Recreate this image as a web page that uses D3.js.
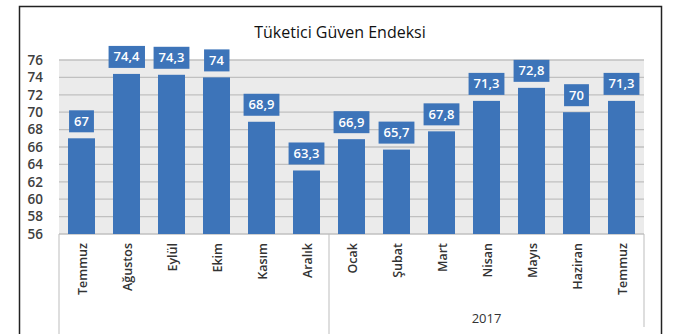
<!DOCTYPE html>
<html><head><meta charset="utf-8">
<script src="https://cdn.jsdelivr.net/npm/d3@7"></script>
<style>
body{margin:0;background:#fff;}
svg{display:block;font-family:"Open Sans","Liberation Sans",sans-serif;}
</style></head>
<body><svg id="c" width="693" height="334"></svg>
<script>
const months = ["Temmuz","Ağustos","Eylül","Ekim","Kasım","Aralık","Ocak","Şubat","Mart","Nisan","Mayıs","Haziran","Temmuz"];
const values = [67,74.4,74.3,74,68.9,63.3,66.9,65.7,67.8,71.3,72.8,70,71.3];
const labels = ["67","74,4","74,3","74","68,9","63,3","66,9","65,7","67,8","71,3","72,8","70","71,3"];
const yTicks = [56,58,60,62,64,66,68,70,72,74,76];
const groups = [{name:"", start:0, end:6},{name:"2017", start:6, end:13}];
const title = "Tüketici Güven Endeksi";

const svg = d3.select("#c");
const L=59, R=644, T=60, B=234;
const x = d3.scaleBand().domain(d3.range(months.length)).range([L,R]).paddingInner(0.4).paddingOuter(0.2);
const y = d3.scaleLinear().domain([56,76]).range([B,T]);

// outer border
svg.append("rect").attr("x",19.5).attr("y",6.5).attr("width",642).attr("height",340)
  .attr("fill","#fff").attr("stroke","#222").attr("stroke-width",1.5);

// plot background
svg.append("rect").attr("x",L).attr("y",T).attr("width",R-L).attr("height",B-T).attr("fill","#ebebeb");

// gridlines
svg.append("g").selectAll("line").data(yTicks).join("line")
  .attr("x1",L).attr("x2",R).attr("y1",d=>y(d)).attr("y2",d=>y(d))
  .attr("stroke","#c0c0c0").attr("stroke-width",1.3);

// y axis
const ya = svg.append("g").attr("transform",`translate(${L},0)`)
  .call(d3.axisLeft(y).tickValues(yTicks).tickSize(0).tickPadding(16));
ya.select(".domain").remove();
ya.selectAll("text").attr("font-size",13.5).attr("font-weight","600").attr("fill","#404040")
  .attr("font-family","'Open Sans',sans-serif");

// bars
svg.append("g").selectAll("rect").data(values).join("rect")
  .attr("x",(d,i)=>x(i)).attr("width",x.bandwidth())
  .attr("y",d=>y(d)).attr("height",d=>B-y(d)).attr("fill","#3d74b9");

// labels with boxes
const lg = svg.append("g").selectAll("g").data(values).join("g")
  .attr("transform",(d,i)=>`translate(${x(i)+x.bandwidth()/2},${y(d)-17})`);
lg.append("text").text((d,i)=>labels[i]).attr("text-anchor","middle").attr("dy","0.35em")
  .attr("font-size",13).attr("font-weight","600").attr("fill","#fff");
lg.each(function(){
  const g=d3.select(this); const bb=g.select("text").node().getBBox();
  g.insert("rect","text").attr("x",bb.x-5).attr("y",-11).attr("width",bb.width+10).attr("height",22).attr("fill","#3d74b9");
});

// category axis
svg.append("line").attr("x1",L).attr("x2",R).attr("y1",B+0.5).attr("y2",B+0.5).attr("stroke","#d0d0d0");
const sepX = [L, (x(5)+x.bandwidth()+x(6))/2, R];
svg.append("g").selectAll("line").data(sepX).join("line")
  .attr("x1",d=>d).attr("x2",d=>d).attr("y1",B).attr("y2",(d,i)=>i===2?327:334)
  .attr("stroke","#bdbdbd").attr("stroke-width",1);

svg.append("g").selectAll("text").data(months).join("text")
  .attr("transform",(d,i)=>`translate(${x(i)+x.bandwidth()/2+1},243) rotate(-90)`)
  .attr("text-anchor","end").attr("dy","0.35em").attr("font-size",12.5).attr("font-weight","600")
  .attr("fill","#333").text(d=>d);

svg.append("g").selectAll("text").data(groups).join("text")
  .attr("x",d=>((d.start===0?L:sepX[1]) + (d.end===13?R:sepX[1]))/2).attr("y",323)
  .attr("text-anchor","middle").attr("font-size",13).attr("fill","#333").text(d=>d.name);

svg.append("text").attr("x",340).attr("y",38).attr("text-anchor","middle")
  .attr("font-size",16).attr("fill","#111").text(title);
</script></body></html>
